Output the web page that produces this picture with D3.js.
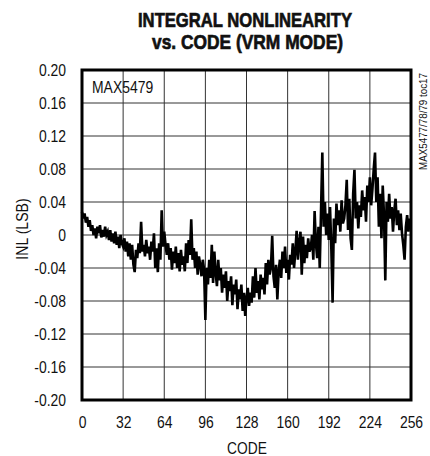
<!DOCTYPE html>
<html>
<head>
<meta charset="utf-8">
<script src="https://cdn.jsdelivr.net/npm/d3@7"></script>
<style>
  body { margin: 0; background: #fff; }
  text { font-family: "Liberation Sans", Arial, sans-serif; fill: #111; }
</style>
</head>
<body>
<div id="chart-area"></div>
<script>
// INL vs code, one value per code 0..255
var inl = [
  0.028, 0.020, 0.026, 0.015, 0.022, 0.010, 0.018, 0.005,
  0.012, 0.000, 0.008, -0.004, 0.010, 0.002, 0.012, -0.003,
  0.006, -0.002, 0.010, 0.000, 0.004, -0.006, 0.006, -0.008,
  0.002, -0.010, 0.004, -0.012, -0.002, -0.016, 0.000, -0.010,
  -0.014, -0.004, -0.020, -0.008, -0.026, -0.010, -0.030, -0.012,
  -0.036, -0.045, -0.018, -0.028, -0.010, -0.022, 0.016, -0.020,
  -0.012, -0.026, -0.006, -0.022, -0.014, -0.030, -0.008, -0.020,
  0.002, -0.040, -0.016, -0.045, -0.010, -0.030, 0.030, -0.014,
  0.004, -0.012, -0.024, -0.010, -0.030, -0.016, -0.042, -0.020,
  -0.034, -0.014, -0.040, -0.022, -0.044, -0.018, -0.036, -0.026,
  -0.044, -0.010, -0.034, -0.006, -0.024, 0.019, -0.030, -0.016,
  -0.040, -0.020, -0.048, -0.026, -0.036, -0.050, -0.030, -0.042,
  -0.103, -0.040, -0.060, -0.030, -0.052, -0.012, -0.058, -0.020,
  -0.046, -0.062, -0.030, -0.055, -0.040, -0.070, -0.048, -0.064,
  -0.044, -0.080, -0.056, -0.068, -0.050, -0.085, -0.060, -0.072,
  -0.054, -0.090, -0.066, -0.078, -0.060, -0.092, -0.070, -0.098,
  -0.076, -0.064, -0.086, -0.070, -0.082, -0.050, -0.076, -0.040,
  -0.070, -0.056, -0.078, -0.048, -0.066, -0.052, -0.072, -0.034,
  -0.060, -0.030, -0.048, -0.040, -0.001, -0.050, -0.064, -0.036,
  -0.078, -0.044, -0.030, -0.052, -0.020, -0.040, -0.014, -0.046,
  -0.030, -0.054, -0.024, -0.036, -0.010, -0.040, -0.020, 0.005,
  -0.030, -0.008, 0.004, -0.048, -0.002, -0.034, -0.012, -0.028,
  -0.004, -0.020, -0.016, 0.000, -0.030, 0.029, -0.010, -0.028,
  0.010, -0.040, 0.030, 0.100, 0.010, 0.040, 0.000, 0.026,
  -0.006, 0.034, -0.016, -0.082, 0.020, -0.010, 0.038, 0.012,
  0.030, 0.004, 0.042, 0.014, 0.020, 0.036, 0.067, 0.006,
  0.044, -0.004, -0.018, 0.050, 0.079, 0.020, 0.040, 0.008,
  0.036, 0.022, 0.054, 0.030, 0.046, 0.016, 0.060, 0.040,
  0.070, 0.036, 0.056, 0.080, 0.100, 0.040, 0.070, 0.010,
  0.050, -0.004, 0.060, 0.024, -0.055, 0.040, 0.016, 0.050,
  0.020, 0.034, 0.004, 0.030, 0.044, 0.012, 0.030, 0.006,
  0.026, 0.002, -0.012, -0.030, 0.010, 0.024, 0.004, 0.020
];
var xTicks = [0, 32, 64, 96, 128, 160, 192, 224, 256];
var yTicks = [-0.20, -0.16, -0.12, -0.08, -0.04, 0, 0.04, 0.08, 0.12, 0.16, 0.20];
var titleLines = ["INTEGRAL NONLINEARITY", "vs. CODE (VRM MODE)"];

var margin = { left: 82, right: 19, top: 70, bottom: 56 };
var width = 430 - margin.left - margin.right;
var height = 456 - margin.top - margin.bottom;

// no narrow font installed, so squeeze glyphs to look like Helvetica Narrow
function condense(sel, k) {
  sel.each(function(){
    var w = this.getComputedTextLength();
    d3.select(this)
      .attr("textLength", w * k)
      .attr("lengthAdjust", "spacingAndGlyphs");
  });
}

var svg = d3.select("#chart-area")
  .append("svg")
    .attr("width", 430)
    .attr("height", 456);

var g = svg.append("g")
  .attr("transform", "translate(" + margin.left + "," + margin.top + ")");

var x = d3.scaleLinear().domain([0, 256]).range([0, width]);
var y = d3.scaleLinear().domain([-0.2, 0.2]).range([height, 0]);

// grid
g.selectAll(".vgrid").data(xTicks.slice(1, -1)).enter()
  .append("line")
    .attr("x1", function(d){ return x(d); })
    .attr("x2", function(d){ return x(d); })
    .attr("y1", 0).attr("y2", height)
    .attr("stroke", "#333").attr("stroke-width", 1);
g.selectAll(".hgrid").data(yTicks.slice(1, -1)).enter()
  .append("line")
    .attr("y1", function(d){ return y(d); })
    .attr("y2", function(d){ return y(d); })
    .attr("x1", 0).attr("x2", width)
    .attr("stroke", "#333").attr("stroke-width", 1);

// axes (labels only, the frame is drawn separately)
var xAxis = d3.axisBottom(x).tickValues(xTicks).tickSize(0).tickPadding(17)
  .tickFormat(d3.format("d"));
var yAxis = d3.axisLeft(y).tickValues(yTicks).tickSize(0).tickPadding(16)
  .tickFormat(function(d){
    // plain hyphen, like the datasheet
    return d === 0 ? "0" : d3.format(".2f")(d).replace("\u2212", "-");
  });

var xg = g.append("g").attr("transform", "translate(0," + height + ")").call(xAxis);
var yg = g.append("g").call(yAxis);
[xg, yg].forEach(function(a){
  a.select(".domain").remove();
  a.selectAll("text")
    .attr("font-size", "16px")
    .attr("font-family", "'Liberation Sans', Arial, sans-serif")
    .attr("fill", "#111")
    .call(condense, 0.87);
});

// data line
var line = d3.line()
  .x(function(d, i){ return x(i); })
  .y(function(d){ return y(d); });

g.append("path")
  .datum(inl)
  .attr("fill", "none")
  .attr("stroke", "#000")
  .attr("stroke-width", 2.6)
  .attr("d", line);

// frame
g.append("rect")
  .attr("x", 0).attr("y", 0)
  .attr("width", width).attr("height", height)
  .attr("fill", "none")
  .attr("stroke", "#000")
  .attr("stroke-width", 3);

// title
svg.selectAll(".title").data(titleLines).enter()
  .append("text")
    .attr("x", function(d, i){ return i ? 247.5 : 245; })
    .attr("y", function(d, i){ return i ? 49 : 27; })
    .attr("text-anchor", "middle")
    .attr("font-size", "21px")
    .attr("font-weight", "bold")
    .attr("stroke", "#111")
    .attr("stroke-width", 0.7)
    .attr("textLength", function(d, i){ return i ? 191 : 214; })
    .attr("lengthAdjust", "spacingAndGlyphs")
    .text(function(d){ return d; });

// axis titles
svg.append("text")
  .attr("x", 247).attr("y", 454)
  .attr("text-anchor", "middle")
  .attr("font-size", "16px")
  .text("CODE")
  .call(condense, 0.86);

svg.append("text")
  .attr("transform", "rotate(-90)")
  .attr("x", -229).attr("y", 28)
  .attr("text-anchor", "middle")
  .attr("font-size", "16px")
  .text("INL (LSB)")
  .call(condense, 0.88);

// annotations
g.append("text")
  .attr("x", 10).attr("y", 23)
  .attr("font-size", "16px")
  .text("MAX5479")
  .call(condense, 0.87);

svg.append("text")
  .attr("transform", "translate(427,73) rotate(-90)")
  .attr("text-anchor", "end")
  .attr("font-size", "10.5px")
  .attr("textLength", 97)
  .attr("lengthAdjust", "spacingAndGlyphs")
  .text("MAX5477/78/79 toc17");
</script>
</body>
</html>
